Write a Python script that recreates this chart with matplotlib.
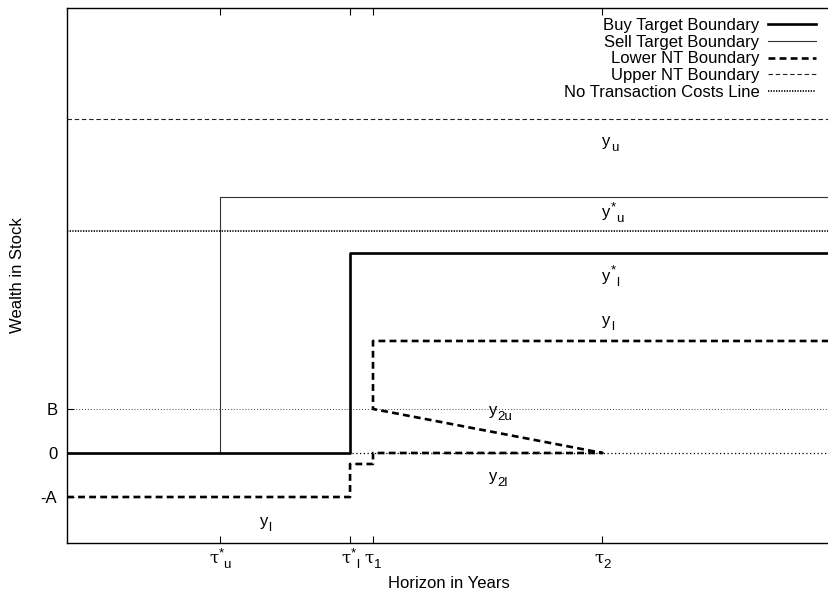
import matplotlib
matplotlib.use("Agg")
import matplotlib.pyplot as plt

plt.rcParams["font.family"] = ["Liberation Sans", "DejaVu Sans"]
plt.rcParams["font.size"] = 12

FS = 12          # base font size
FS_SCRIPT = 9.6  # super/subscript size (0.8 of base)
TICK_DROP = 14.0  # tick-label baseline below the x axis, points

# ── Boundary levels / switching horizons ─────────────────────────────────────
tau_u_star, tau_l_star, tau_1, tau_2 = 1.0, 1.85, 2.0, 3.5
x_end = 5.0

xtick_pos = [tau_u_star, tau_l_star, tau_1, tau_2]
# (base, superscript, subscript)
xtick_lab = [("τ", "*", "u"), ("τ", "*", "l"), ("τ", "", "1"), ("τ", "", "2")]
ytick_pos = [-1, 0, 1]
ytick_lab = ["-A", "0", "B"]

buy_x = [0, tau_l_star, tau_l_star, x_end]
buy_y = [0, 0, 4.545, 4.545]

sell_x = [0, tau_u_star, tau_u_star, x_end]
sell_y = [0, 0, 5.82, 5.82]

lower_x = [0, tau_l_star, tau_l_star, tau_1, tau_1, tau_2, tau_1, tau_1, x_end]
lower_y = [-1, -1, -0.25, -0.25, 0, 0, 1, 2.545, 2.545]

upper_level = 7.59
notc_level = 5.05
b_level = 1.0

# region labels
region_x = [3.5, 3.5, 3.5, 3.5, 2.76, 2.76, 1.26]
region_y = [7.07, 5.47, 4.02, 3.0, 0.97, -0.53, -1.55]
region_txt = [("y", "", "u"), ("y", "*", "u"), ("y", "*", "l"), ("y", "", "l"),
              ("y", "", "2u"), ("y", "", "2l"), ("y", "", "l")]


def add_scripts(ax, base, sup, sub):
    """Attach gnuplot-style super/subscripts to the right of a text artist."""
    pieces = [base]
    desc = 0.212 * FS  # bbox bottom sits one descent below the baseline
    last = base
    if sup:
        s = ax.annotate(sup, xy=(1, 0), xycoords=base, xytext=(0, desc + 4.5),
                        textcoords="offset points", ha="left", va="baseline",
                        fontsize=FS_SCRIPT)
        pieces.append(s)
        last = s
    if sub:
        s = ax.annotate(sub, xy=(1, 0), xycoords=(last, base),
                        xytext=(0, desc - 4.0), textcoords="offset points",
                        ha="left", va="baseline", fontsize=FS_SCRIPT)
        pieces.append(s)
    return pieces


# ── Figure ───────────────────────────────────────────────────────────────────
W, H = 829, 597
fig = plt.figure(figsize=(W / 100, H / 100), dpi=100)
ax = fig.add_axes([67 / W, (H - 543) / H, (832 - 67) / W, (543 - 8) / H])
ax.set_xlim(0, x_end)
ax.set_ylim(-2.045, 10.11)

# reference lines at B and 0
ax.plot([0, x_end], [b_level, b_level], color="#444444", lw=0.7,
        dashes=(1, 2), zorder=1)
ax.plot([0, x_end], [0, 0], color="black", lw=0.9, dashes=(1, 2), zorder=1)

l_buy, = ax.plot(buy_x, buy_y, color="black", lw=1.9, zorder=4)
l_sell, = ax.plot(sell_x, sell_y, color="#333333", lw=0.8, zorder=3)
l_low, = ax.plot(lower_x, lower_y, color="black", lw=1.9, dashes=(2.6, 1.6),
                 zorder=3)
l_up, = ax.plot([0, x_end], [upper_level, upper_level], color="#222222",
                lw=0.8, dashes=(4, 2.5), zorder=3)
l_ntc, = ax.plot([0, x_end], [notc_level, notc_level], color="black",
                 lw=1.2, dashes=(0.8, 0.8), zorder=3)

for x, y, (b, sp, sb) in zip(region_x, region_y, region_txt):
    t = ax.text(x, y, b, ha="left", va="center", fontsize=FS)
    add_scripts(ax, t, sp, sb)

# x tick labels drawn by hand so the scripts can be sized like the base text
ax.set_xticks(xtick_pos)
ax.set_xticklabels([])
xlab_groups = []
for x, (b, sp, sb) in zip(xtick_pos, xtick_lab):
    t = ax.annotate(b, xy=(x, 0), xycoords=ax.get_xaxis_transform(),
                    xytext=(0, -TICK_DROP), textcoords="offset points",
                    ha="left", va="baseline", fontsize=FS,
                    family=["DejaVu Serif"])
    xlab_groups.append(add_scripts(ax, t, sp, sb))

ax.set_yticks(ytick_pos)
ax.set_yticklabels(ytick_lab)
ax.tick_params(axis="x", direction="in", length=5, width=0.8, top=True)
ax.tick_params(axis="y", direction="in", length=5, width=0.8, right=False,
               pad=7, labelsize=FS)
ax.spines["right"].set_visible(False)
for s in ("left", "bottom", "top"):
    ax.spines[s].set_linewidth(1.0)

fig.text(18 / W, 1 - 275 / H, "Wealth in Stock", rotation=90,
         ha="center", va="center", fontsize=FS)
fig.text(449 / W, 1 - 583 / H, "Horizon in Years", ha="center",
         va="center", fontsize=FS)

handles = [l_buy, l_sell, l_low, l_up, l_ntc]
labels = ["Buy Target Boundary", "Sell Target Boundary", "Lower NT Boundary",
          "Upper NT Boundary", "No Transaction Costs Line"]
fig.legend(handles, labels, loc="upper right",
           bbox_to_anchor=(816 / W, 1 - 18 / H), frameon=False,
           markerfirst=False, handlelength=2.9, handletextpad=0.5,
           labelspacing=0.105, borderpad=0, borderaxespad=0, fontsize=FS)

# centre each composite tick label on its tick
fig.canvas.draw()
renderer = fig.canvas.get_renderer()
for group in xlab_groups:
    exts = [p.get_window_extent(renderer) for p in group]
    width_px = max(e.x1 for e in exts) - min(e.x0 for e in exts)
    group[0].xyann = (-width_px / 2 * 72 / fig.dpi, -TICK_DROP)

fig.savefig("out.png", dpi=100)
